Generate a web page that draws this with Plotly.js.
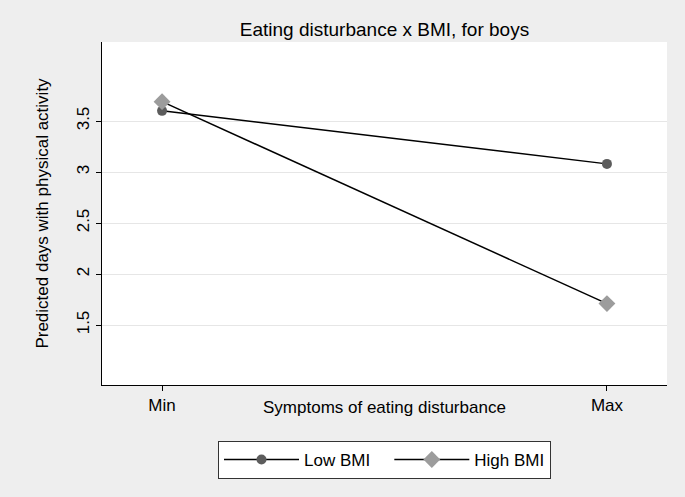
<!DOCTYPE html>
<html>
<head>
<meta charset="utf-8">
<script src="https://cdn.plot.ly/plotly-3.0.1.min.js"></script>
<style>html,body{margin:0;padding:0;background:#eeeeee;}#chart{width:685px;height:497px;}</style>
</head>
<body>
<div id="chart"></div>
<script>
var categories = ["Min", "Max"];
var xPositions = [0, 1];
var lowBMI = [3.60, 3.08];
var highBMI = [3.69, 1.71];
var seriesNames = ["Low BMI\u00a0\u00a0\u00a0", "High BMI"];
var yTickVals = [1.5, 2, 2.5, 3, 3.5];
var yTickText = ["1.5", "2", "2.5", "3", "3.5"];

var font = "Liberation Sans, Arial, Helvetica, sans-serif";

var traces = [
  {
    x: xPositions, y: lowBMI, name: seriesNames[0], type: "scatter", mode: "lines+markers",
    line: {color: "#000000", width: 1.5},
    marker: {symbol: "circle", size: 10, color: "#5c5c5c"}
  },
  {
    x: xPositions, y: highBMI, name: seriesNames[1], type: "scatter", mode: "lines+markers",
    line: {color: "#000000", width: 1.5},
    marker: {symbol: "diamond", size: 13, color: "#9c9c9c"}
  }
];

var layout = {
  width: 685, height: 497,
  paper_bgcolor: "#eeeeee", plot_bgcolor: "#ffffff",
  margin: {l: 102, r: 18, t: 42, b: 112},
  font: {family: font, size: 17, color: "#000000"},
  title: {text: "Eating disturbance x BMI, for boys", font: {family: font, size: 19, color: "#000"}, x: 0.5, xanchor: "center", y: 0.94, yanchor: "middle", xref: "paper"},
  showlegend: true,
  legend: {
    orientation: "h", x: 0.5, xanchor: "center", xref: "paper",
    y: -0.163, yanchor: "top",
    bgcolor: "#ffffff", bordercolor: "#333333", borderwidth: 1,
    font: {family: font, size: 17, color: "#000"},
    itemwidth: 75, tracegroupgap: 0
  },
  xaxis: {
    range: [-0.135, 1.135], tickvals: xPositions, ticktext: categories,
    showgrid: false, zeroline: false, showline: true, linecolor: "#000", linewidth: 1,
    ticks: "outside", ticklen: 5, tickcolor: "#000",
    tickfont: {family: font, size: 17}, fixedrange: true
  },
  yaxis: {
    range: [0.912, 4.275], tickvals: yTickVals, ticktext: yTickText,
    tickangle: -90, showgrid: true, gridcolor: "#e6e6e6", gridwidth: 1,
    zeroline: false, showline: true, linecolor: "#000", linewidth: 1,
    ticks: "outside", ticklen: 5, tickcolor: "#000",
    tickfont: {family: font, size: 17},
    title: {text: "Predicted days with physical activity", font: {family: font, size: 17}, standoff: 21}
  },
  annotations: [
    {text: "Symptoms of eating disturbance", xref: "paper", yref: "paper", x: 0.5, y: 0, yshift: -22, xanchor: "center", yanchor: "middle", showarrow: false, font: {family: font, size: 17, color: "#000"}}
  ]
};

Plotly.newPlot("chart", traces, layout, {displayModeBar: false, staticPlot: true});
</script>
</body>
</html>
